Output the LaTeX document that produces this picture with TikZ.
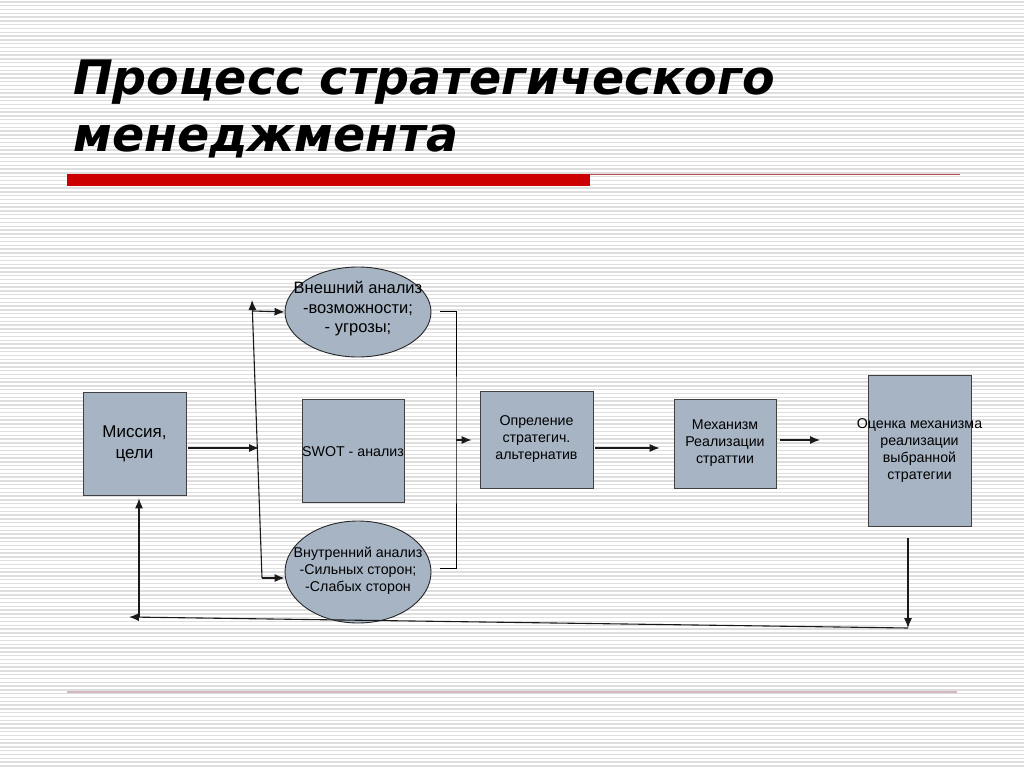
\documentclass[tikz,border=0pt]{standalone}
\usepackage{fontspec}
\setmainfont{Liberation Sans}
\newfontfamily\titlefont{DejaVu Sans}
\usetikzlibrary{arrows.meta,shapes.geometric}
\definecolor{boxblue}{HTML}{A6B4C4}
\definecolor{stripegray}{HTML}{DEDEDE}
\definecolor{barred}{HTML}{CC0000}
\definecolor{barline}{HTML}{B45050}
\definecolor{footpink}{HTML}{D6B8C0}

\begin{document}
\begin{tikzpicture}[x=1pt,y=-1pt, >={Latex[length=10pt,width=8pt]}, every node/.style={font=\fontsize{14.2}{17}\selectfont,align=center,text=black}, box/.style={draw=black!75,fill=boxblue,line width=0.8pt,inner sep=0pt}, oval/.style={ellipse,draw=black!85,fill=boxblue,line width=0.9pt,inner sep=0pt,minimum width=146pt}, link/.style={->,line width=1.1pt,draw=black!90}]
\useasboundingbox (0,0) rectangle (1024,767);
% striped slide background
\fill[white] (0,0) rectangle (1024,767);
\foreach \y in {2,5.8,...,767} \draw[stripegray,line width=1.4pt] (0,\y) -- (1024,\y);
% title and rules
\node[anchor=north west,align=left,inner sep=0pt,font=\titlefont\bfseries\itshape\fontsize{47.5}{57}\selectfont] (title) at (73,60) {Процесс стратегического\\менеджмента};
\fill[barred] (67,174) rectangle (590,186);
\draw[barline,line width=1.5pt] (590,174.5) -- (960,174.5);
\draw[footpink,line width=2pt] (67,692) -- (957,692);
% blocks
\node[box,minimum width=103pt,minimum height=103pt,font=\fontsize{17}{21}\selectfont] (mission) at (134.5,443.5) {Миссия,\\цели};
\node[box,minimum width=102pt,minimum height=103pt,label={[yshift=-1pt]center:{SWOT - анализ}}] (swot) at (353,450.5) {};
\node[oval,minimum height=90pt,label={[yshift=3pt,font=\fontsize{16.5}{19.5}\selectfont]center:{Внешний анализ\\-возможности;\\- угрозы;}}] (external) at (358,312) {};
\node[oval,minimum height=102pt,label={[yshift=1pt]center:{Внутренний анализ\\-Сильных сторон;\\-Слабых сторон}}] (internal) at (358,572) {};
\node[box,minimum width=113pt,minimum height=97pt] (alternatives) at (536.5,439.5) {Опреление\\стратегич.\\альтернатив};
\node[box,minimum width=102pt,minimum height=89pt] (mechanism) at (725,443.5) {Механизм\\Реализации\\страттии};
\node[box,minimum width=103pt,minimum height=151pt,label={center:{Оценка механизма\\реализации\\выбранной\\стратегии}}] (evaluation) at (919.5,450.5) {};
% connectors
\coordinate (missionout) at (188,448);
\coordinate (fork) at (259,448);
\coordinate (forktop) at (252,300);
\coordinate (forkup) at (253,311);
\coordinate (forkdown) at (262,578);
\coordinate (joinA) at (440,311);
\coordinate (joinB) at (440,568);
\coordinate (join) at (456,440);
\coordinate (altout) at (595,448);
\coordinate (mechout) at (780,440);
\coordinate (evalin) at (820,440);
\coordinate (evalout) at (908,538);
\coordinate (evalbot) at (908,628);
\coordinate (retleft) at (129,617);
\coordinate (retup) at (139,617);
\draw[link] (missionout) -- (fork);
\draw[link] (forkdown) -- (forktop);
\draw[link] (forkup) -- (external.west);
\draw[link] (forkdown) -- (forkdown -| internal.west);
\draw[line width=0.8pt] (joinA) -| (join) |- (joinB);
\draw[link,shorten >=8pt] (join) -- (join -| alternatives.west);
\draw[link,shorten >=14pt] (altout) -- (altout -| mechanism.west);
\draw[link] (mechout) -- (evalin);
\draw[link] (evalout) -- (evalbot);
\draw[link] (evalbot) -- (retleft);
\draw[link,shorten >=3pt] (retup) -- (retup |- mission.south);
\end{tikzpicture}
\end{document}
